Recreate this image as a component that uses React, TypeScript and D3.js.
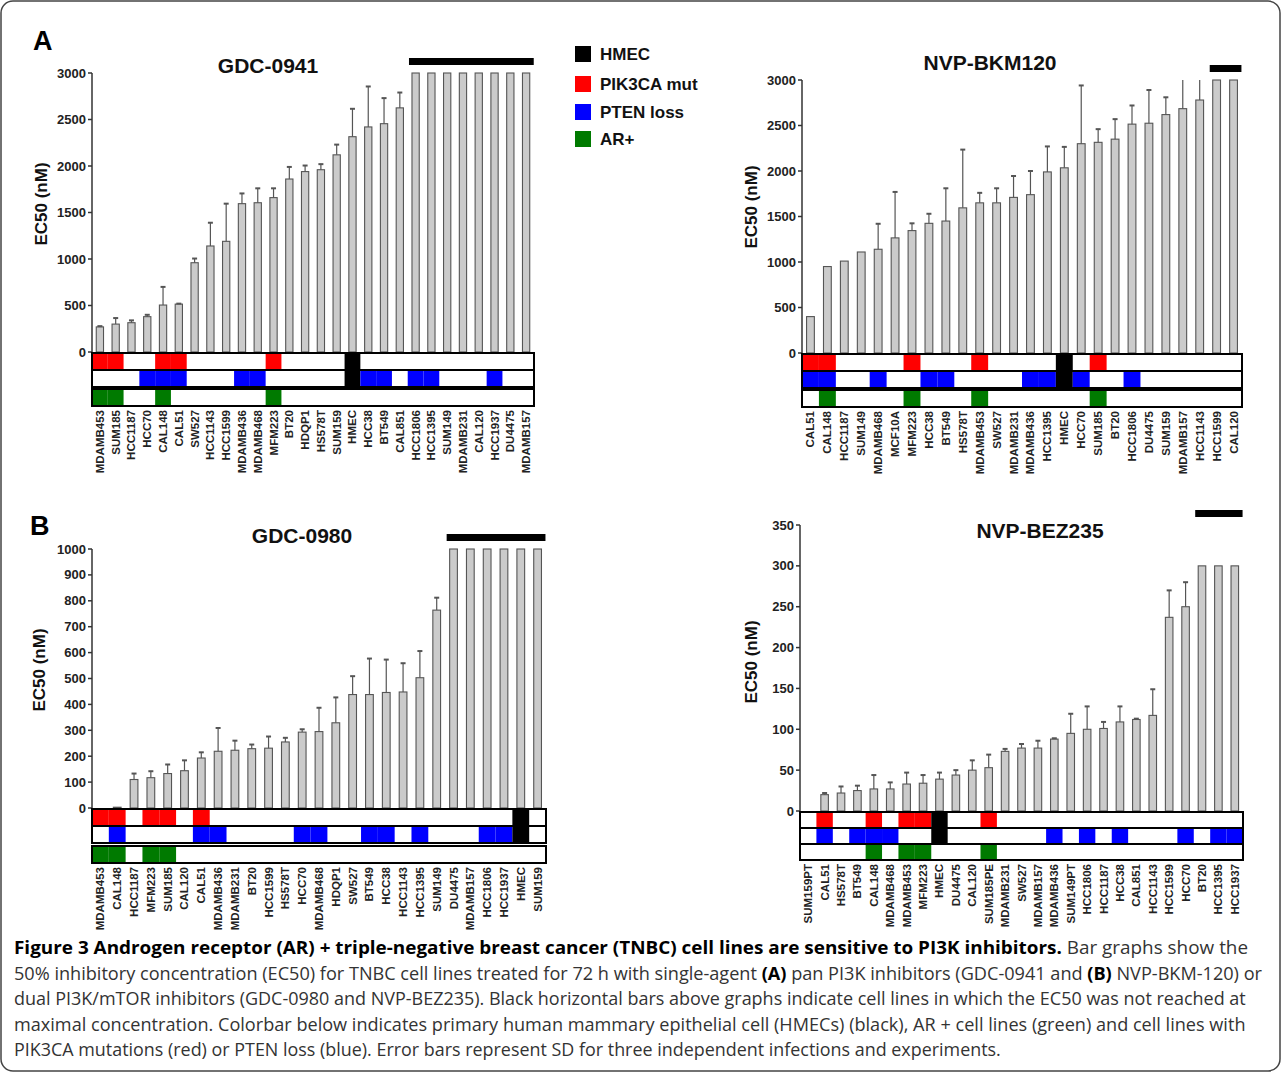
import React, { useLayoutEffect, useRef, useState } from 'react'
import * as d3 from 'd3'

// ---- panel A, GDC-0941 ----
const gdc0941Cells = ['MDAMB453', 'SUM185', 'HCC1187', 'HCC70', 'CAL148', 'CAL51', 'SW527', 'HCC1143', 'HCC1599', 'MDAMB436', 'MDAMB468', 'MFM223', 'BT20', 'HDQP1', 'HS578T', 'SUM159', 'HMEC', 'HCC38', 'BT549', 'CAL851', 'HCC1806', 'HCC1395', 'SUM149', 'MDAMB231', 'CAL120', 'HCC1937', 'DU4475', 'MDAMB157']
const gdc0941Ec50 = [270, 300, 315, 380, 505, 515, 960, 1140, 1190, 1595, 1605, 1660, 1860, 1940, 1960, 2120, 2315, 2420, 2455, 2625, 3000, 3000, 3000, 3000, 3000, 3000, 3000, 3000]
const gdc0941Sd = [8, 65, 25, 20, 195, 5, 45, 250, 405, 110, 155, 100, 130, 65, 60, 110, 300, 435, 275, 165, 0, 0, 0, 0, 0, 0, 0, 0]
const gdc0941Pik3ca = ['MDAMB453', 'SUM185', 'CAL148', 'CAL51', 'MFM223']
const gdc0941Pten = ['HCC70', 'CAL148', 'CAL51', 'MDAMB436', 'MDAMB468', 'HCC38', 'BT549', 'HCC1806', 'HCC1395', 'HCC1937']
const gdc0941Ar = ['MDAMB453', 'SUM185', 'CAL148', 'MFM223']
const gdc0941NotReached = ['HCC1806', 'MDAMB157']

// ---- panel A, NVP-BKM120 ----
const bkm120Cells = ['CAL51', 'CAL148', 'HCC1187', 'SUM149', 'MDAMB468', 'MCF10A', 'MFM223', 'HCC38', 'BT549', 'HS578T', 'MDAMB453', 'SW527', 'MDAMB231', 'MDAMB436', 'HCC1395', 'HMEC', 'HCC70', 'SUM185', 'BT20', 'HCC1806', 'DU4475', 'SUM159', 'MDAMB157', 'HCC1143', 'HCC1599', 'CAL120']
const bkm120Ec50 = [400, 950, 1010, 1110, 1140, 1265, 1345, 1425, 1450, 1595, 1650, 1650, 1710, 1740, 1990, 2035, 2300, 2315, 2350, 2515, 2525, 2620, 2685, 2780, 3000, 3000]
const bkm120Sd = [0, 0, 0, 0, 280, 505, 80, 105, 360, 640, 110, 160, 235, 260, 280, 230, 640, 145, 220, 205, 365, 190, 450, 450, 0, 0]
const bkm120Pik3ca = ['CAL51', 'CAL148', 'MFM223', 'MDAMB453', 'SUM185']
const bkm120Pten = ['CAL51', 'CAL148', 'MDAMB468', 'HCC38', 'BT549', 'MDAMB436', 'HCC1395', 'HCC70', 'HCC1806']
const bkm120Ar = ['CAL148', 'MFM223', 'MDAMB453', 'SUM185']
const bkm120NotReached = ['HCC1599', 'CAL120']

// ---- panel B, GDC-0980 ----
const gdc0980Cells = ['MDAMB453', 'CAL148', 'HCC1187', 'MFM223', 'SUM185', 'CAL120', 'CAL51', 'MDAMB436', 'MDAMB231', 'BT20', 'HCC1599', 'HS578T', 'HCC70', 'MDAMB468', 'HDQP1', 'SW527', 'BT549', 'HCC38', 'HCC1143', 'HCC1395', 'SUM149', 'DU4475', 'MDAMB157', 'HCC1806', 'HCC1937', 'HMEC', 'SUM159']
const gdc0980Ec50 = [0, 3, 110, 117, 133, 144, 193, 219, 223, 229, 231, 255, 293, 295, 329, 438, 438, 446, 448, 503, 764, 1000, 1000, 1000, 1000, 1000, 1000]
const gdc0980Sd = [0, 0, 23, 25, 35, 40, 22, 90, 37, 16, 45, 16, 11, 92, 98, 71, 139, 127, 111, 103, 48, 0, 0, 0, 0, 0, 0]
const gdc0980Pik3ca = ['MDAMB453', 'CAL148', 'MFM223', 'SUM185', 'CAL51']
const gdc0980Pten = ['CAL148', 'CAL51', 'MDAMB436', 'HCC70', 'MDAMB468', 'BT549', 'HCC38', 'HCC1395', 'HCC1806', 'HCC1937']
const gdc0980Ar = ['MDAMB453', 'CAL148', 'MFM223', 'SUM185']
const gdc0980NotReached = ['DU4475', 'SUM159']

// ---- panel B, NVP-BEZ235 ----
const bez235Cells = ['SUM159PT', 'CAL51', 'HS578T', 'BT549', 'CAL148', 'MDAMB468', 'MDAMB453', 'MFM223', 'HMEC', 'DU4475', 'CAL120', 'SUM185PE', 'MDAMB231', 'SW527', 'MDAMB157', 'MDAMB436', 'SUM149PT', 'HCC1806', 'HCC1187', 'HCC38', 'CAL851', 'HCC1143', 'HCC1599', 'HCC70', 'BT20', 'HCC1395', 'HCC1937']
const bez235Ec50 = [0, 20, 22, 25, 27, 27, 33, 34, 39, 44, 50, 53, 73, 77, 77, 88, 95, 100, 101, 109, 112, 117, 237, 250, 300, 300, 300]
const bez235Sd = [0, 2, 8, 6, 17, 8, 14, 10, 8, 6, 12, 16, 3, 5, 9, 1, 24, 28, 8, 19, 1, 32, 33, 30, 0, 0, 0]
const bez235Pik3ca = ['CAL51', 'CAL148', 'MDAMB453', 'MFM223', 'SUM185PE']
const bez235Pten = ['CAL51', 'BT549', 'CAL148', 'MDAMB468', 'MDAMB436', 'HCC1806', 'HCC38', 'HCC70', 'HCC1395', 'HCC1937']
const bez235Ar = ['CAL148', 'MDAMB453', 'MFM223', 'SUM185PE']
const bez235NotReached = ['BT20', 'HCC1937']

const legendLabels = ['HMEC', 'PIK3CA mut', 'PTEN loss', 'AR+']
const legendColors = ['#000000', '#ff0000', '#0000ff', '#007a00']

const FONT = '"Liberation Sans", Arial, Helvetica, sans-serif'

type PanelProps = {
  title: string
  cells: string[]
  ec50: number[]
  sd: number[]
  pik3ca: string[]
  pten: string[]
  arPos: string[]
  notReached: string[]
  yMax: number
  yStep: number
  left: number
  right: number
  top: number
  bottom: number
  titleX: number
  titleY: number
  axisLabelX: number
  axisLabelY: number
  rowH: number
  rowGap: number
}

const Panel = (p: PanelProps) => {
  const x = d3
    .scaleBand()
    .domain(p.cells)
    .range([p.left, p.right])
    .paddingInner(0.54)
    .paddingOuter(0.27)
  const y = d3.scaleLinear().domain([0, p.yMax]).range([p.bottom, p.top])
  const bw = x.bandwidth()
  const step = x.step()
  const ticks = d3.range(0, p.yMax + 1, p.yStep)
  const cellX = (c: string) => (x(c) as number) + bw / 2 - step / 2
  const cx = (c: string) => (x(c) as number) + bw / 2

  const r0 = p.bottom + 1
  const r1 = r0 + p.rowH
  const r2 = r1 + p.rowH + p.rowGap
  const cbW = p.right - p.left

  const nrFirst = x(p.notReached[0]) as number
  const nrLast = (x(p.notReached[1]) as number) + bw

  return (
    <g fontFamily={FONT} fontWeight="bold">
      <text x={p.titleX} y={p.titleY} textAnchor="middle" fontSize={21} fill="#111">
        {p.title}
      </text>
      <text
        transform={`translate(${p.axisLabelX},${p.axisLabelY}) rotate(-90)`}
        textAnchor="middle"
        fontSize={17}
        fill="#111"
      >
        EC50 (nM)
      </text>

      {/* y axis */}
      <line x1={p.left} x2={p.left} y1={p.top} y2={p.bottom} stroke="#333" strokeWidth={1.5} />
      {ticks.map(t => (
        <g key={t}>
          <line x1={p.left - 4} x2={p.left} y1={y(t)} y2={y(t)} stroke="#333" strokeWidth={1.5} />
          <text x={p.left - 6} y={y(t)} dy="0.35em" textAnchor="end" fontSize={13} fill="#222">
            {t}
          </text>
        </g>
      ))}

      {/* bars */}
      {p.cells.map((c, i) => {
        const v = p.ec50[i]
        if (v <= 0) return null
        return (
          <rect
            key={c + i}
            x={x(c)}
            y={y(v)}
            width={bw}
            height={p.bottom - y(v)}
            fill="#cbcbcb"
            stroke="#555"
            strokeWidth={1.1}
          />
        )
      })}

      {/* error bars */}
      {p.cells.map((c, i) => {
        const v = p.ec50[i]
        const s = p.sd[i]
        if (s <= 0 || v <= 0) return null
        const hi = Math.min(v + s, p.yMax)
        const capped = v + s <= p.yMax
        return (
          <g key={'e' + c + i} stroke="#555" strokeWidth={1.2}>
            <line x1={cx(c)} x2={cx(c)} y1={y(v)} y2={y(hi)} />
            {capped && <line x1={cx(c) - 2.5} x2={cx(c) + 2.5} y1={y(hi)} y2={y(hi)} strokeWidth={2} />}
          </g>
        )
      })}

      {/* EC50 not reached */}
      <rect x={nrFirst - 3} y={y(p.yMax) - 15} width={nrLast - nrFirst + 7} height={7} fill="#000" />

      {/* colorbar */}
      {p.cells.map(c => (
        <g key={'cb' + c}>
          {c === 'HMEC' && <rect x={cellX(c)} y={r0} width={step} height={p.rowH * 2} fill="#000" />}
          {p.pik3ca.includes(c) && <rect x={cellX(c)} y={r0} width={step} height={p.rowH} fill="#ff0000" />}
          {p.pten.includes(c) && <rect x={cellX(c)} y={r1} width={step} height={p.rowH} fill="#0000ff" />}
          {p.arPos.includes(c) && <rect x={cellX(c)} y={r2} width={step} height={p.rowH} fill="#007a00" />}
        </g>
      ))}
      <g fill="none" stroke="#000" strokeWidth={2}>
        <rect x={p.left} y={r0} width={cbW} height={p.rowH} />
        <rect x={p.left} y={r1} width={cbW} height={p.rowH} />
        <rect x={p.left} y={r2} width={cbW} height={p.rowH} />
      </g>

      {/* cell line labels */}
      {p.cells.map(c => (
        <text
          key={'l' + c}
          transform={`translate(${cx(c)},${r2 + p.rowH + 4}) rotate(-90)`}
          textAnchor="end"
          dominantBaseline="central"
          fontSize={11.5}
          fill="#222"
        >
          {c}
        </text>
      ))}
    </g>
  )
}

// caption lines: list of [text, bold] pieces, plus the x where the line ends
type Seg = [string, boolean]
const captionLines: Seg[][] = [
  [
    ['Figure 3 Androgen receptor (AR) + triple-negative breast cancer (TNBC) cell lines are sensitive to PI3K inhibitors.', true],
    [' Bar graphs show the', false]
  ],
  [
    ['50% inhibitory concentration (EC50) for TNBC cell lines treated for 72 h with single-agent ', false],
    ['(A)', true],
    [' pan PI3K inhibitors (GDC-0941 and ', false],
    ['(B)', true],
    [' NVP-BKM-120) or', false]
  ],
  [['dual PI3K/mTOR inhibitors (GDC-0980 and NVP-BEZ235). Black horizontal bars above graphs indicate cell lines in which the EC50 was not reached at', false]],
  [['maximal concentration. Colorbar below indicates primary human mammary epithelial cell (HMECs) (black), AR + cell lines (green) and cell lines with', false]],
  [['PIK3CA mutations (red) or PTEN loss (blue). Error bars represent SD for three independent infections and experiments.', false]]
]
const captionEnds = [1248, 1262, 1245, 1245, 1000]

// a caption line squeezed horizontally to the condensed width of the original
const CaptionLine = ({ segs, y, x0, x1 }: { segs: Seg[]; y: number; x0: number; x1: number }) => {
  const ref = useRef<SVGTextElement>(null)
  const [sx, setSx] = useState(0.9)
  useLayoutEffect(() => {
    if (ref.current) {
      const w = ref.current.getComputedTextLength()
      if (w > 0) setSx((x1 - x0) / w)
    }
  }, [x0, x1])
  return (
    <text ref={ref} transform={`translate(${x0},${y}) scale(${sx},1)`} fill="#333" style={{ whiteSpace: 'pre' }}>
      {segs.map(([t, b], i) => (
        <tspan key={i} fontWeight={b ? 'bold' : 'normal'} fill={b ? '#000' : '#333'}>
          {t}
        </tspan>
      ))}
    </text>
  )
}

export default function App() {
  return (
    <svg
      width={1282}
      height={1073}
      style={{ position: 'absolute', left: 0, top: 0, background: '#fff' }}
    >
      <rect x={1} y={1} width={1279} height={1070} rx={12} fill="#fff" stroke="#444" strokeWidth={1.5} />

      <text x={33} y={50} fontFamily={FONT} fontWeight="bold" fontSize={27}>A</text>
      <text x={30} y={535} fontFamily={FONT} fontWeight="bold" fontSize={27}>B</text>

      <Panel
        title="GDC-0941"
        cells={gdc0941Cells}
        ec50={gdc0941Ec50}
        sd={gdc0941Sd}
        pik3ca={gdc0941Pik3ca}
        pten={gdc0941Pten}
        arPos={gdc0941Ar}
        notReached={gdc0941NotReached}
        yMax={3000}
        yStep={500}
        left={92}
        right={534}
        top={73}
        bottom={352}
        titleX={268}
        titleY={73}
        axisLabelX={47}
        axisLabelY={204}
        rowH={17}
        rowGap={2}
      />
      <Panel
        title="NVP-BKM120"
        cells={bkm120Cells}
        ec50={bkm120Ec50}
        sd={bkm120Sd}
        pik3ca={bkm120Pik3ca}
        pten={bkm120Pten}
        arPos={bkm120Ar}
        notReached={bkm120NotReached}
        yMax={3000}
        yStep={500}
        left={802}
        right={1242}
        top={80}
        bottom={353}
        titleX={990}
        titleY={70}
        axisLabelX={757}
        axisLabelY={207}
        rowH={17}
        rowGap={2}
      />
      <Panel
        title="GDC-0980"
        cells={gdc0980Cells}
        ec50={gdc0980Ec50}
        sd={gdc0980Sd}
        pik3ca={gdc0980Pik3ca}
        pten={gdc0980Pten}
        arPos={gdc0980Ar}
        notReached={gdc0980NotReached}
        yMax={1000}
        yStep={100}
        left={92}
        right={546}
        top={549}
        bottom={808}
        titleX={302}
        titleY={543}
        axisLabelX={45}
        axisLabelY={670}
        rowH={17}
        rowGap={3}
      />
      <Panel
        title="NVP-BEZ235"
        cells={bez235Cells}
        ec50={bez235Ec50}
        sd={bez235Sd}
        pik3ca={bez235Pik3ca}
        pten={bez235Pten}
        arPos={bez235Ar}
        notReached={bez235NotReached}
        yMax={350}
        yStep={50}
        left={800}
        right={1243}
        top={525}
        bottom={811}
        titleX={1040}
        titleY={538}
        axisLabelX={757}
        axisLabelY={662}
        rowH={16}
        rowGap={0}
      />

      {/* legend */}
      <g fontFamily={FONT} fontWeight="bold" fontSize={17}>
        {legendLabels.map((l, i) => {
          const ly = [46, 76, 104, 131][i]
          return (
            <g key={l}>
              <rect x={575} y={ly} width={16} height={16} fill={legendColors[i]} />
              <text x={600} y={ly + 14} fill="#111">{l}</text>
            </g>
          )
        })}
      </g>

      {/* caption */}
      <g fontFamily='"Open Sans", "Noto Sans", sans-serif' fontSize={18.5}>
        {captionLines.map((ln, i) => (
          <CaptionLine key={i} segs={ln} y={954 + i * 25.5} x0={14} x1={captionEnds[i]} />
        ))}
      </g>
    </svg>
  )
}
